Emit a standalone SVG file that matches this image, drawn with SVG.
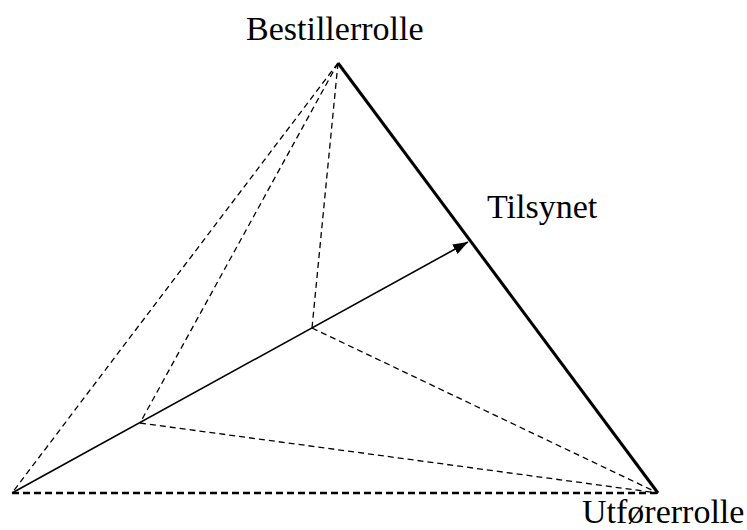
<svg xmlns="http://www.w3.org/2000/svg" width="747" height="530" viewBox="0 0 747 530">
  <style>
    .label { font-family: "Liberation Serif", "Times New Roman", serif; font-size: 34px; fill: #000; }
    .dash { fill: none; stroke: #000; stroke-width: 1.3; stroke-dasharray: 6 4; }
    .base { fill: none; stroke: #000; stroke-width: 2.6; stroke-dasharray: 7 4; }
    .edge { fill: none; stroke: #000; stroke-width: 3; }
    .vec { fill: none; stroke: #000; stroke-width: 1.6; }
  </style>
  <defs>
    <marker id="head" viewBox="0 0 15 11" refX="15" refY="5.5" markerWidth="15" markerHeight="11" markerUnits="userSpaceOnUse" orient="auto">
      <path d="M0,0 L15,5.5 L0,11 Z" fill="#000"/>
    </marker>
  </defs>

  <rect width="747" height="530" fill="#fff"/>

  <g id="connectors">
    <!-- dashed edges of the pyramid -->
    <line class="dash" x1="338" y1="63" x2="12" y2="493"/>
    <line class="dash" x1="338" y1="63" x2="140" y2="423"/>
    <line class="dash" x1="338" y1="63" x2="312" y2="328"/>
    <line class="dash" x1="140" y1="423" x2="658" y2="493"/>
    <line class="dash" x1="312" y1="328" x2="658" y2="493"/>
    <line class="base" x1="12" y1="493" x2="658" y2="493"/>
    <!-- solid edge from top to bottom right -->
    <line class="edge" x1="338" y1="63" x2="658" y2="493"/>
    <!-- direction arrow -->
    <line class="vec" x1="12" y1="493" x2="468" y2="242" marker-end="url(#head)"/>
  </g>

  <g id="bestillerrolle">
    <text class="label" x="246" y="40">Bestillerrolle</text>
  </g>
  <g id="tilsynet">
    <text class="label" x="487" y="218">Tilsynet</text>
  </g>
  <g id="utforerrolle">
    <text class="label" x="582" y="523">Utførerrolle</text>
  </g>
</svg>
